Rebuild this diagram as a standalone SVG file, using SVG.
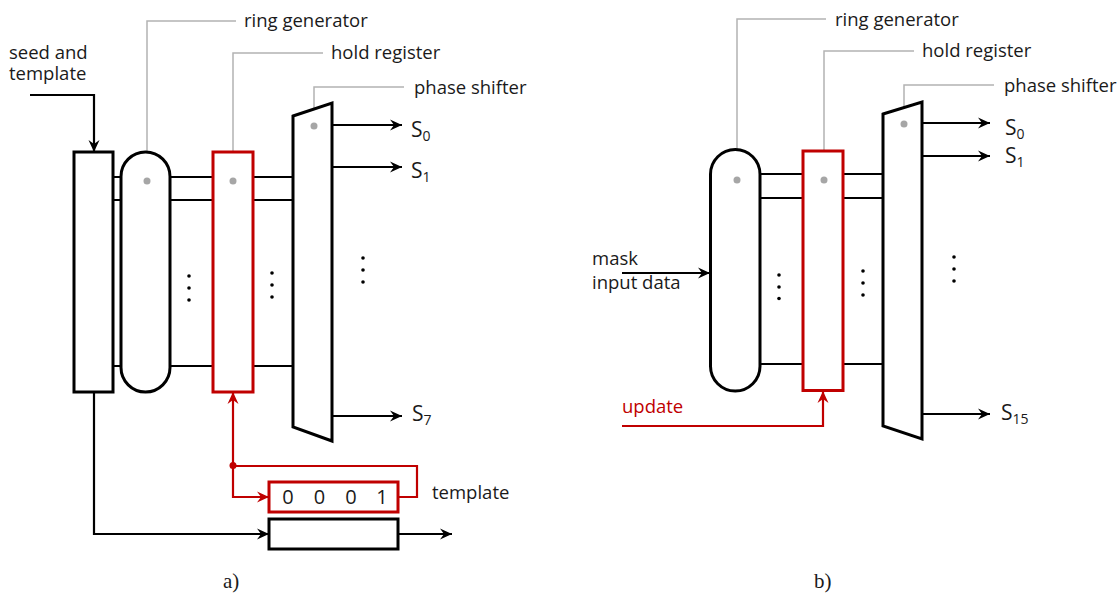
<svg xmlns="http://www.w3.org/2000/svg" width="1118" height="596" viewBox="0 0 1118 596">
<style>
.t{font-family:"Open Sans","Noto Sans",sans-serif;font-size:18.5px;fill:#1a1a1a}
.s{font-family:"Open Sans","Noto Sans",sans-serif;font-size:21px;fill:#1a1a1a}
.d{font-family:"Open Sans","Noto Sans",sans-serif;font-size:20px;fill:#1a1a1a}
.sub{font-size:14px}
.cap{font-family:"Liberation Serif",serif;font-size:21px;fill:#1a1a1a}
.red{fill:#c00000}
.box{fill:#fff;stroke:#000;stroke-width:3}
.rbox{fill:#fff;stroke:#c00000;stroke-width:3}
.ln{fill:none;stroke:#000;stroke-width:2.2}
.rl{fill:none;stroke:#c00000;stroke-width:2.2}
.ld{fill:none;stroke:#b3b3b3;stroke-width:1.5}
.gd{fill:#a6a6a6}
.dt{fill:#000}
</style>
<defs>
<marker id="ab" markerUnits="userSpaceOnUse" markerWidth="13" markerHeight="13" refX="12" refY="6.5" orient="auto"><path d="M0,1 L12,6.5 L0,12 L4,6.5 z" fill="#000"/></marker>
<marker id="ar" markerUnits="userSpaceOnUse" markerWidth="13" markerHeight="13" refX="12" refY="6.5" orient="auto"><path d="M0,1 L12,6.5 L0,12 L4,6.5 z" fill="#c00000"/></marker>
</defs>

<g id="connectors">
<path class="ln" d="M113,177 H121 M113,200 H121 M113,366 H121 M170,177 H213 M170,200 H213 M170,366 H213 M253,177 H293 M253,200 H293 M253,366 H293"/>
<path class="ln" d="M760,174 H803 M760,198 H803 M760,364 H803 M843,174 H883 M843,198 H883 M843,364 H883"/>
<path class="ln" d="M30,95 H94 V152" marker-end="url(#ab)"/>
<path class="ln" d="M332,125 H402" marker-end="url(#ab)"/>
<path class="ln" d="M332,167 H402" marker-end="url(#ab)"/>
<path class="ln" d="M332,416 H402" marker-end="url(#ab)"/>
<path class="ln" d="M94,392 V534 H269" marker-end="url(#ab)"/>
<path class="ln" d="M398,534 H452" marker-end="url(#ab)"/>
<path class="rl" d="M233,465 V392" marker-end="url(#ar)"/>
<path class="rl" d="M233,465 V497 H269" marker-end="url(#ar)"/>
<path class="rl" d="M233,466 H417 V497 H398"/>
<circle cx="233" cy="465.5" r="3.5" fill="#c00000"/>
<path class="ln" d="M622,273 H710" marker-end="url(#ab)"/>
<path class="ln" d="M922,123 H990" marker-end="url(#ab)"/>
<path class="ln" d="M922,156 H990" marker-end="url(#ab)"/>
<path class="ln" d="M922,414 H990" marker-end="url(#ab)"/>
<path class="rl" d="M622,426 H823 V391" marker-end="url(#ar)"/>
<path class="ld" d="M147,181 V21 H236 M233,181 V53 H323 M314,126 V87 H404"/>
<path class="ld" d="M737,180 V19 H826 M824,180 V51 H914 M904,124 V85 H994"/>
</g>

<g id="seed-register-a"><rect class="box" x="74" y="152" width="39" height="240"/></g>
<g id="ring-generator-a"><rect class="box" x="121" y="152" width="49" height="240" rx="24.5" ry="24.5"/><circle class="gd" cx="147" cy="181" r="3.5"/></g>
<g id="hold-register-a"><rect class="rbox" x="213" y="152" width="40" height="240"/><circle class="gd" cx="233" cy="181" r="3.5"/></g>
<g id="phase-shifter-a"><polygon class="box" points="293,116 332,103 332,441 293,427"/><circle class="gd" cx="314" cy="126" r="3.5"/></g>
<g id="template-register-a"><rect class="rbox" x="269" y="482" width="129" height="30"/>
<text class="d" x="288" y="504" text-anchor="middle">0</text><text class="d" x="319.5" y="504" text-anchor="middle">0</text><text class="d" x="351" y="504" text-anchor="middle">0</text><text class="d" x="382" y="504" text-anchor="middle">1</text></g>
<g id="shift-register-a"><rect class="box" x="269" y="519" width="129" height="30"/></g>

<g id="dots-a">
<circle class="dt" cx="189" cy="276" r="1.8"/><circle class="dt" cx="189" cy="288" r="1.8"/><circle class="dt" cx="189" cy="300" r="1.8"/>
<circle class="dt" cx="272" cy="273" r="1.8"/><circle class="dt" cx="272" cy="285" r="1.8"/><circle class="dt" cx="272" cy="297" r="1.8"/>
<circle class="dt" cx="363" cy="258" r="1.8"/><circle class="dt" cx="363" cy="270" r="1.8"/><circle class="dt" cx="363" cy="282" r="1.8"/>
</g>

<g id="ring-generator-b"><rect class="box" x="710.5" y="149.5" width="49.5" height="241.5" rx="24.75" ry="24.75"/><circle class="gd" cx="737" cy="180" r="3.5"/></g>
<g id="hold-register-b"><rect class="rbox" x="803" y="151" width="40" height="239.5"/><circle class="gd" cx="824" cy="180" r="3.5"/></g>
<g id="phase-shifter-b"><polygon class="box" points="883,114 922,102 922,439 883,426"/><circle class="gd" cx="904" cy="124" r="3.5"/></g>

<g id="dots-b">
<circle class="dt" cx="779" cy="275" r="1.8"/><circle class="dt" cx="779" cy="287" r="1.8"/><circle class="dt" cx="779" cy="298.5" r="1.8"/>
<circle class="dt" cx="863" cy="271" r="1.8"/><circle class="dt" cx="863" cy="283" r="1.8"/><circle class="dt" cx="863" cy="295" r="1.8"/>
<circle class="dt" cx="954" cy="257" r="1.8"/><circle class="dt" cx="954" cy="269" r="1.8"/><circle class="dt" cx="954" cy="281" r="1.8"/>
</g>

<g id="labels">
<text class="t" x="9" y="59">seed and</text>
<text class="t" x="9" y="80">template</text>
<text class="t" x="244" y="27">ring generator</text>
<text class="t" x="331" y="59">hold register</text>
<text class="t" x="414" y="94">phase shifter</text>
<text class="t" x="432" y="499">template</text>
<text class="s" x="411" y="137">S<tspan class="sub" dy="4">0</tspan></text>
<text class="s" x="411" y="178">S<tspan class="sub" dy="4">1</tspan></text>
<text class="s" x="412" y="421">S<tspan class="sub" dy="4">7</tspan></text>
<text class="cap" x="223" y="588">a)</text>

<text class="t" x="835" y="26">ring generator</text>
<text class="t" x="922" y="57">hold register</text>
<text class="t" x="1004" y="92">phase shifter</text>
<text class="t" x="592" y="265">mask</text>
<text class="t" x="592" y="289">input data</text>
<text class="t red" x="622" y="413">update</text>
<text class="s" x="1005" y="135">S<tspan class="sub" dy="4">0</tspan></text>
<text class="s" x="1005" y="163">S<tspan class="sub" dy="4">1</tspan></text>
<text class="s" x="1001" y="420">S<tspan class="sub" dy="4">15</tspan></text>
<text class="cap" x="814" y="588">b)</text>
</g>
</svg>
